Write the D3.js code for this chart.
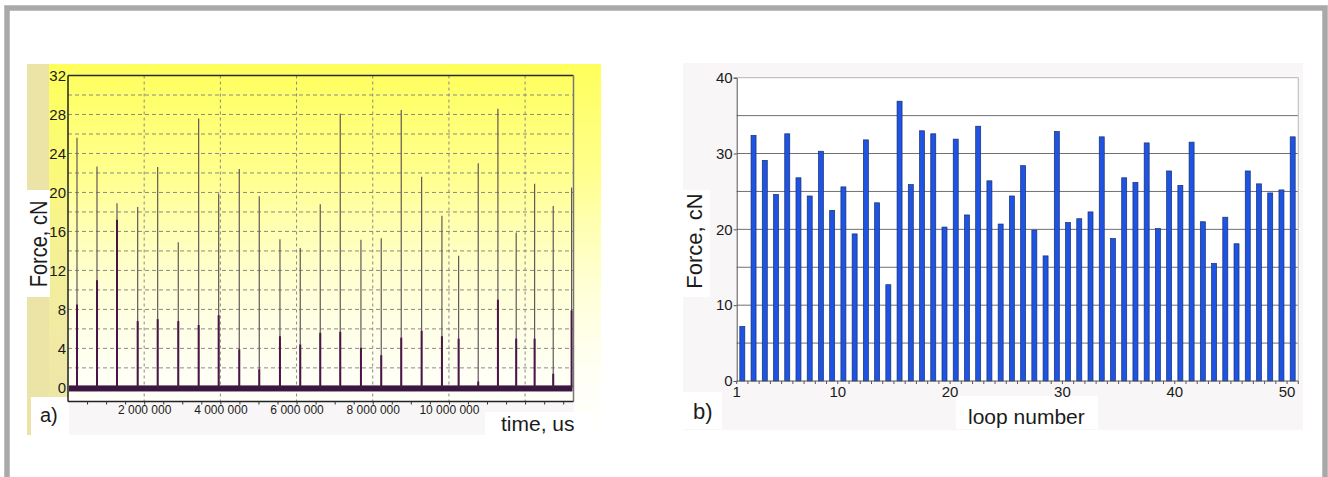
<!DOCTYPE html>
<html><head><meta charset="utf-8">
<script src="https://cdn.jsdelivr.net/npm/d3@7"></script>
<style>
html,body{margin:0;padding:0;background:#fff;}
svg{display:block;}
text{font-family:"Liberation Sans",Arial,Helvetica,sans-serif;fill:#1b1b1b;}
</style>
</head><body>
<svg id="c" width="1328" height="477"></svg>
<script>
// ---------- DATA: chart a) force vs time ----------
const spikeTimes = [236000, 761000, 1286000, 1829000, 2354000, 2895000, 3430000, 3955000, 4496000, 5021000, 5564000, 6097000, 6622000, 7147000, 7690000, 8223000, 8748000, 9283000, 9816000, 10254000, 10769000, 11286000, 11766000, 12249000, 12738000, 13220000];
const spikePeaks = [25.6, 22.65, 18.9, 18.5, 22.6, 14.9, 27.6, 19.9, 22.4, 19.6, 15.2, 14.3, 18.8, 28.1, 15.15, 15.3, 28.45, 21.6, 17.6, 13.5, 23.0, 28.6, 15.9, 20.9, 18.6, 20.5];
const spikeBase  = [8.5, 11.0, 17.2, 6.8, 7.0, 6.8, 6.4, 7.4, 3.9, 1.85, 5.25, 4.4, 5.6, 5.7, 4.06, 3.3, 5.1, 5.8, 5.25, 5.0, 0.6, 9.0, 5.0, 5.0, 1.4, 7.9];
const baselineBand = [-0.42, 0.2];          // noise band of the signal around zero, cN
const timeDomain = [0, 13270000];
const forceDomainA = [-1.45, 32];
const forceTicksA = [0, 4, 8, 12, 16, 20, 24, 28, 32];
const forceGridA = [2, 4, 6, 8, 10, 12, 14, 16, 18, 20, 22, 24, 26, 28, 30];
const timeTickLabels = [2000000, 4000000, 6000000, 8000000, 10000000];
const timeGrid = [2000000, 4000000, 6000000, 8000000, 10000000, 12000000];
const timeMinorTicks = [500000, 1000000, 1500000, 2000000, 2500000, 3000000, 3500000, 4000000, 4500000, 5000000, 5500000, 6000000, 6500000, 7000000, 7500000, 8000000, 8500000, 9000000, 9500000, 10000000, 10500000, 11000000, 11500000, 12000000, 12500000, 13000000];

// ---------- DATA: chart b) force per loop ----------
const loops = [1,2,3,4,5,6,7,8,9,10,11,12,13,14,15,16,17,18,19,20,21,22,23,24,25,26,27,28,29,30,31,32,33,34,35,36,37,38,39,40,41,42,43,44,45,46,47,48,49,50];
const loopForce = [7.2, 32.4, 29.1, 24.6, 32.6, 26.8, 24.4, 30.3, 22.5, 25.6, 19.4, 31.8, 23.5, 12.7, 36.9, 25.9, 33.0, 32.6, 20.3, 31.9, 21.9, 33.6, 26.4, 20.7, 24.4, 28.4, 19.9, 16.5, 32.9, 20.9, 21.4, 22.3, 32.2, 18.8, 26.8, 26.2, 31.4, 20.1, 27.7, 25.8, 31.5, 21.0, 15.5, 21.6, 18.1, 27.7, 26.0, 24.8, 25.2, 32.2];
const forceDomainB = [0, 40];
const forceTicksB = [0, 10, 20, 30, 40];
const forceGridB = [5, 10, 15, 20, 25, 30, 35];
const loopTickLabels = [1, 10, 20, 30, 40, 50];

// ---------- DRAWING ----------
const svg = d3.select("#c");
const defs = svg.append("defs");

// outer frame
svg.append("rect").attr("x", 7).attr("y", 8).attr("width", 1318).attr("height", 520)
  .attr("fill", "#fff").attr("stroke", "#a9a9ab").attr("stroke-width", 5.5);

// ===== chart a =====
const A = {left: 68, right: 573.5, top: 75.5, bottom: 401.5};
const xA = d3.scaleLinear().domain(timeDomain).range([A.left, A.right]);
const yA = d3.scaleLinear().domain(forceDomainA).range([A.bottom, A.top]);

const grad = defs.append("linearGradient").attr("id", "yel")
  .attr("x1", 0).attr("y1", 0).attr("x2", 0).attr("y2", 1);
[[0, "#ffff5a", 1], [0.3, "#ffff6e", 0.78], [0.6, "#ffff88", 0.35], [0.85, "#ffffb0", 0.12], [1, "#ffffd0", 0.04]]
  .forEach(s => grad.append("stop").attr("offset", s[0]).attr("stop-color", s[1]).attr("stop-opacity", s[2]));

svg.append("rect").attr("x", 27).attr("y", 64).attr("width", 42).attr("height", 371).attr("fill", "#ece4a6");
svg.append("rect").attr("x", 49).attr("y", 64).attr("width", 552).attr("height", 371).attr("fill", "url(#yel)");
// label boxes / strip
svg.append("rect").attr("x", 69).attr("y", 402).attr("width", 505).attr("height", 33).attr("fill", "#f8f6f6");
svg.append("rect").attr("x", 27).attr("y", 190).attr("width", 23).attr("height", 107).attr("fill", "#fff");
svg.append("rect").attr("x", 31).attr("y", 397).attr("width", 38).attr("height", 38).attr("fill", "#fff");
svg.append("rect").attr("x", 485).attr("y", 412).attr("width", 107).attr("height", 23).attr("fill", "#fff");

const ga = svg.append("g");
// grid
ga.selectAll("line.hg").data(forceGridA).join("line")
  .attr("x1", A.left).attr("x2", A.right).attr("y1", d => yA(d)).attr("y2", d => yA(d))
  .attr("stroke", "#8b8a80").attr("stroke-width", 1).attr("stroke-dasharray", "4,3");
ga.selectAll("line.vg").data(timeGrid).join("line")
  .attr("x1", d => xA(d)).attr("x2", d => xA(d)).attr("y1", A.top).attr("y2", A.bottom)
  .attr("stroke", "#8b8a80").attr("stroke-width", 1).attr("stroke-dasharray", "3,3");

// noise baseline band
ga.append("rect").attr("x", A.left + 1).attr("width", A.right - A.left - 2)
  .attr("y", yA(baselineBand[1])).attr("height", yA(baselineBand[0]) - yA(baselineBand[1]))
  .attr("fill", "#3c1642");

// spikes
const spikes = spikeTimes.map((t, i) => ({t, p: spikePeaks[i], b: spikeBase[i]}));
ga.selectAll("line.sp").data(spikes).join("line")
  .attr("x1", d => xA(d.t)).attr("x2", d => xA(d.t)).attr("y1", yA(0)).attr("y2", d => yA(d.p))
  .attr("stroke", "#625858").attr("stroke-width", 1.2);
ga.selectAll("line.sb").data(spikes).join("line")
  .attr("x1", d => xA(d.t)).attr("x2", d => xA(d.t)).attr("y1", yA(0)).attr("y2", d => yA(d.b))
  .attr("stroke", "#4a1446").attr("stroke-width", 2);

// borders
ga.append("line").attr("x1", A.left).attr("x2", A.right).attr("y1", A.top).attr("y2", A.top).attr("stroke", "#2a2a2a").attr("stroke-width", 1.5);
ga.append("line").attr("x1", A.right).attr("x2", A.right).attr("y1", A.top).attr("y2", A.bottom).attr("stroke", "#777").attr("stroke-width", 1.5);
ga.append("line").attr("x1", A.left).attr("x2", A.left).attr("y1", A.top).attr("y2", A.bottom).attr("stroke", "#222").attr("stroke-width", 1.5);
ga.append("line").attr("x1", A.left).attr("x2", A.right).attr("y1", A.bottom).attr("y2", A.bottom).attr("stroke", "#222").attr("stroke-width", 1.3);

// axes
const yAxA = svg.append("g").attr("transform", `translate(${A.left},0)`)
  .call(d3.axisLeft(yA).tickValues(forceTicksA).tickSize(0).tickPadding(2));
yAxA.select(".domain").remove();
yAxA.selectAll("text").attr("font-size", 15).attr("font-family", null).attr("fill", "#1b1b1b");

const fmtT = v => d3.format(",")(v).replace(/,/g, " ");
const xAxA = svg.append("g").attr("transform", `translate(0,${A.bottom})`)
  .call(d3.axisBottom(xA).tickValues(timeTickLabels).tickSize(0).tickPadding(3.5).tickFormat(fmtT));
xAxA.select(".domain").remove();
xAxA.selectAll("text").attr("font-size", 12).attr("font-family", null).attr("fill", "#1b1b1b");

const mAxA = svg.append("g").attr("transform", `translate(0,${A.bottom})`)
  .call(d3.axisBottom(xA).tickValues(timeMinorTicks).tickSize(3).tickFormat(""));
mAxA.select(".domain").remove();
mAxA.selectAll("line").attr("stroke", "#333");

// labels a
svg.append("text").attr("transform", "translate(47,244) rotate(-90) scale(1,1.2)")
  .attr("text-anchor", "middle").attr("font-size", 20).text("Force, cN");
svg.append("text").attr("x", 40).attr("y", 422).attr("font-size", 20).text("a)");
svg.append("text").attr("x", 501).attr("y", 430.5).attr("font-size", 21).text("time, us");

// ===== chart b =====
const B = {left: 736.7, right: 1298.3, top: 77.7, bottom: 381};
const xB = d3.scaleBand().domain(loops).range([B.left, B.right]).padding(0);
const yB = d3.scaleLinear().domain(forceDomainB).range([B.bottom, B.top]);

svg.append("rect").attr("x", 683).attr("y", 63).attr("width", 620).attr("height", 367).attr("fill", "#f8f6f6");
svg.append("rect").attr("x", B.left).attr("y", B.top).attr("width", B.right - B.left).attr("height", B.bottom - B.top).attr("fill", "#fff");
svg.append("rect").attr("x", 683).attr("y", 190).attr("width", 27).attr("height", 107).attr("fill", "#fff");
svg.append("rect").attr("x", 683).attr("y", 392).attr("width", 39).attr("height", 37).attr("fill", "#fff");
svg.append("rect").attr("x", 956).attr("y", 396).attr("width", 142).attr("height", 33).attr("fill", "#fff");

const gb = svg.append("g");
gb.selectAll("line.hg").data(forceGridB).join("line")
  .attr("x1", B.left).attr("x2", B.right).attr("y1", d => yB(d)).attr("y2", d => yB(d))
  .attr("stroke", "#707070").attr("stroke-width", 1);
// frame top/right
gb.append("line").attr("x1", B.left).attr("x2", B.right).attr("y1", yB(forceDomainB[1])).attr("y2", yB(forceDomainB[1])).attr("stroke", "#c2c2c2").attr("stroke-width", 1.2);
gb.append("line").attr("x1", B.right).attr("x2", B.right).attr("y1", B.top).attr("y2", B.bottom).attr("stroke", "#c2c2c2").attr("stroke-width", 1.2);

// bars
const barW = 5;
gb.selectAll("rect.bar").data(loops.map((n, i) => ({n, v: loopForce[i]}))).join("rect")
  .attr("x", d => xB(d.n) + xB.bandwidth() / 2 - barW / 2).attr("width", barW)
  .attr("y", d => yB(d.v)).attr("height", d => yB(0) - yB(d.v))
  .attr("fill", "#1f53e2").attr("stroke", "#163070").attr("stroke-width", 0.7);

// axes
const yAxB = svg.append("g").attr("transform", `translate(${B.left},0)`)
  .call(d3.axisLeft(yB).tickValues(forceTicksB).tickSize(3).tickPadding(1));
yAxB.select(".domain").attr("stroke", "#555");
yAxB.selectAll("line").attr("stroke", "#555");
yAxB.selectAll("text").attr("font-size", 15).attr("font-family", null).attr("fill", "#1b1b1b");

gb.append("line").attr("x1", B.left).attr("x2", B.right).attr("y1", B.bottom).attr("y2", B.bottom).attr("stroke", "#555").attr("stroke-width", 1);
const tickPos = loops.map(n => xB(n)).concat([B.right]);
gb.selectAll("line.ct").data(tickPos).join("line")
  .attr("x1", d => d).attr("x2", d => d).attr("y1", B.bottom).attr("y2", B.bottom + 3)
  .attr("stroke", "#555").attr("stroke-width", 1);
gb.selectAll("text.xl").data(loopTickLabels).join("text")
  .attr("x", d => xB(d)).attr("y", 397).attr("text-anchor", "middle").attr("font-size", 15).text(d => d);

// labels b
svg.append("text").attr("transform", "translate(702,241) rotate(-90)")
  .attr("text-anchor", "middle").attr("font-size", 22).text("Force, cN");
svg.append("text").attr("x", 693).attr("y", 418.5).attr("font-size", 22).text("b)");
svg.append("text").attr("x", 968).attr("y", 423.5).attr("font-size", 21).text("loop number");
</script>
</body></html>
